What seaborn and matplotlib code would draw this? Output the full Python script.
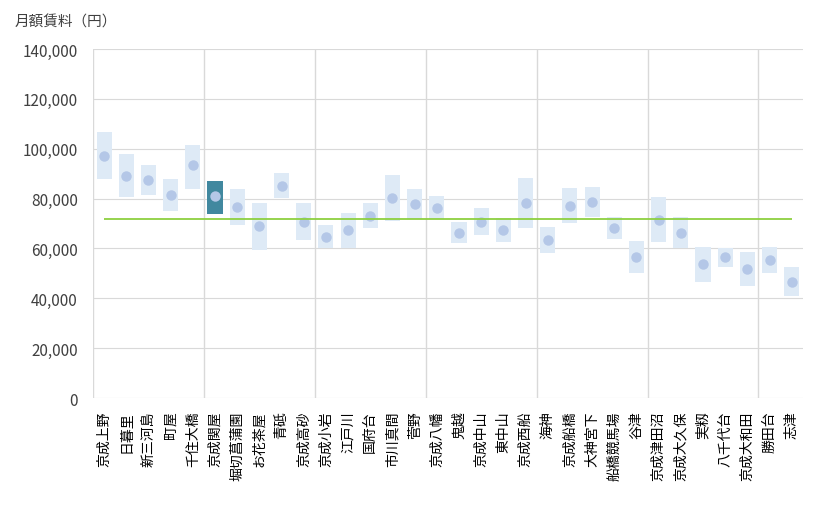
import numpy as np
import pandas as pd
import matplotlib
matplotlib.use("Agg")
import matplotlib.pyplot as plt
import seaborn as sns
from matplotlib.ticker import FuncFormatter

stations = ["京成上野", "日暮里", "新三河島", "町屋", "千住大橋",
            "京成関屋", "堀切菖蒲園", "お花茶屋", "青砥", "京成高砂",
            "京成小岩", "江戸川", "国府台", "市川真間", "菅野",
            "京成八幡", "鬼越", "京成中山", "東中山", "京成西船",
            "海神", "京成船橋", "大神宮下", "船橋競馬場", "谷津",
            "京成津田沼", "京成大久保", "実籾", "八千代台", "京成大和田",
            "勝田台", "志津"]
rent_low = [87800, 80600, 81400, 75100, 83800,
            73800, 69400, 59400, 80100, 63500,
            60200, 60200, 68200, 71100, 71800,
            71800, 62200, 65400, 62600, 68200,
            58200, 70200, 72600, 63800, 50100,
            62600, 60000, 46500, 52500, 44900,
            50100, 40900]
rent_high = [106700, 97900, 93500, 87800, 101500,
             87000, 83800, 78200, 90300, 78200,
             69400, 74200, 78200, 89400, 83800,
             81000, 70600, 76200, 72200, 88200,
             68600, 84200, 84600, 72600, 63000,
             80600, 72600, 60600, 60200, 58600,
             60600, 52500]
rent_mid = [97100, 88900, 87300, 81300, 93300,
            80900, 76500, 68900, 84900, 70500,
            64500, 67300, 72900, 80100, 77700,
            76100, 66100, 70500, 67300, 78100,
            63300, 76900, 78500, 68100, 56400,
            71300, 66100, 53600, 56400, 51600,
            55200, 46400]
line_avg = 71700
highlight = "京成関屋"

df = pd.DataFrame({"station": stations, "low": rent_low,
                   "high": rent_high, "mid": rent_mid})
df["span"] = df["high"] - df["low"]

sns.set_theme(style="white")
plt.rcParams["font.family"] = ["Noto Sans CJK JP", "DejaVu Sans"]

fig = plt.figure(figsize=(8.2, 5.1), dpi=100)
ax = fig.add_axes([0.1134, 0.2176, 0.8656, 0.6844])

# floating bars: span drawn from the low value
sns.barplot(data=df, x="station", y="span", color="#deeaf6", saturation=1,
            bottom=df["low"].to_numpy(), width=0.68, linewidth=0,
            ax=ax, zorder=2)
for patch, s in zip(ax.patches, stations):
    if s == highlight:
        patch.set_facecolor("#41889f")

sns.stripplot(data=df, x="station", y="mid", jitter=False, size=7.5,
              color="#b4c7e7", linewidth=0, ax=ax, zorder=3)

n = len(stations)
ax.hlines(line_avg, 0, n - 1, color="#8dd040", lw=1.3, zorder=4)

# grid
for v in np.arange(0, 140001, 20000):
    ax.axhline(v, color="#d9d9d9", lw=0.8, zorder=0)
for b in np.arange(-0.5, n, 5):
    ax.axvline(b, color="#d9d9d9", lw=1.0, zorder=0)

ax.set_xlim(-0.5, n - 0.5)
ax.set_ylim(0, 140000)
ax.set_yticks(np.arange(0, 140001, 20000))
ax.yaxis.set_major_formatter(FuncFormatter(lambda v, p: f"{int(v):,}"))
ax.tick_params(axis="y", labelsize=11, colors="#404040", length=0, pad=11)
ax.tick_params(axis="x", labelsize=10, colors="#000000", length=0, pad=9)
plt.setp(ax.get_xticklabels(), rotation=90)
ax.set_xlabel("")
ax.set_ylabel("")
for sp in ax.spines.values():
    sp.set_visible(False)

fig.text(0.018, 0.955, "月額賃料（円）", fontsize=10.5, color="#404040", va="center")

fig.savefig("out.png", dpi=100)
